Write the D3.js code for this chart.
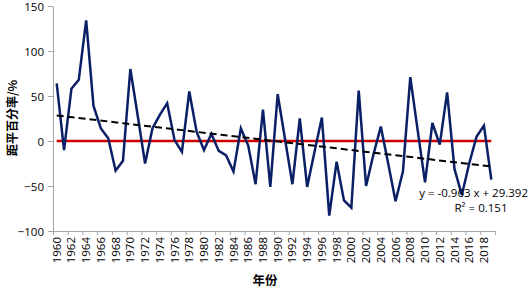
<!DOCTYPE html>
<html>
<head>
<meta charset="utf-8">
<script src="https://cdn.jsdelivr.net/npm/d3@7"></script>
<style>
  body { margin: 0; background: #fff; }
  .axis path, .axis line { stroke: #a6a6a6; }
  .axis text { font-family: "Open Sans", "Noto Sans", sans-serif; font-size: 11.5px; fill: #000; }
</style>
</head>
<body>
<div id="chart"></div>
<script>
const years = d3.range(1960, 2020)
const anomaly = [
  64, -10, 58, 68, 134, 39, 14, 3, -33, -22,
  80, 28, -25, 14, 29, 42, 1, -12, 55, 10,
  -10, 8, -11, -16, -34, 14, -5, -48, 35, -51,
  52, 2, -48, 25, -51, -12, 26, -83, -23, -66,
  -74, 56, -50, -15, 16, -25, -67, -34, 71, 12,
  -46, 20, -4, 54, -31, -60, -25, 5, 17, -43
]
const yTicks = [-100, -50, 0, 50, 100, 150]
const trendSlope = -0.963
const trendIntercept = 29.392
const trendText = "y = -0.963 x + 29.392"
const r2Text = "R² = 0.151"

const width = 529, height = 289
const margin = {top: 6, right: 34, bottom: 58, left: 53}

const svg = d3.select("#chart").append("svg")
    .attr("width", width)
    .attr("height", height)

const x = d3.scaleBand()
    .domain(years)
    .range([margin.left, width - margin.right])
    .padding(0)

const xEdge = d3.scaleLinear()
    .domain([years[0] - 0.5, years[years.length - 1] + 0.5])
    .range([margin.left, width - margin.right])

const y = d3.scaleLinear()
    .domain([-100, 150])
    .range([height - margin.bottom, margin.top])

const cx = d => x(d) + x.bandwidth() / 2

// y axis
svg.append("g")
    .attr("class", "axis y-axis")
    .attr("transform", `translate(${margin.left},0)`)
    .call(d3.axisLeft(y).tickValues(yTicks).tickSize(5).tickSizeOuter(0).tickPadding(4))
    .selectAll("text")
    .attr("dy", "0.4em")

// x axis ticks at category boundaries
const edgeTicks = d3.range(years[0] - 0.5, years[years.length - 1] + 1, 2)
svg.append("g")
    .attr("class", "axis x-axis")
    .attr("transform", `translate(0,${y(-100)})`)
    .call(d3.axisBottom(xEdge).tickValues(edgeTicks).tickFormat("").tickSize(4).tickSizeOuter(0))

// x labels (every other year), rotated
svg.append("g")
    .attr("class", "axis x-labels")
    .attr("transform", `translate(0,${y(-100)})`)
    .call(d3.axisBottom(x).tickValues(years.filter(d => d % 2 === 0)).tickSize(0))
    .call(g => g.select(".domain").remove())
    .selectAll("text")
    .attr("transform", "rotate(-90)")
    .attr("text-anchor", "end")
    .attr("x", -6)
    .attr("y", 0)
    .attr("dy", "0.35em")

// zero line
svg.append("line")
    .attr("x1", cx(years[0]))
    .attr("x2", cx(years[years.length - 1]))
    .attr("y1", y(0))
    .attr("y2", y(0))
    .attr("stroke", "#d00000")
    .attr("stroke-width", 2.5)

// data line
const line = d3.line()
    .x((d, i) => cx(years[i]))
    .y(d => y(d))

svg.append("path")
    .datum(anomaly)
    .attr("fill", "none")
    .attr("stroke", "#0b1f66")
    .attr("stroke-width", 2.5)
    .attr("d", line)

// linear trend (x = 1..n)
const n = years.length
svg.append("line")
    .attr("x1", cx(years[0]))
    .attr("x2", cx(years[n - 1]))
    .attr("y1", y(trendSlope * 1 + trendIntercept))
    .attr("y2", y(trendSlope * n + trendIntercept))
    .attr("stroke", "#000")
    .attr("stroke-width", 2)
    .attr("stroke-dasharray", "7,4")

// trend label
const labelFont = '"Open Sans", "Noto Sans", sans-serif'
svg.append("text")
    .attr("x", 528)
    .attr("y", 197)
    .attr("text-anchor", "end")
    .style("font-family", labelFont)
    .style("font-size", "11.5px")
    .text(trendText)

svg.append("text")
    .attr("x", 481)
    .attr("y", 212)
    .attr("text-anchor", "middle")
    .style("font-family", labelFont)
    .style("font-size", "11.5px")
    .text(r2Text)

// axis titles
svg.append("text")
    .attr("x", 265)
    .attr("y", 285)
    .attr("text-anchor", "middle")
    .style("font-family", '"Noto Sans CJK SC", sans-serif')
    .style("font-weight", "bold")
    .style("font-size", "12.5px")
    .text("年份")

svg.append("text")
    .attr("transform", "translate(17,118) rotate(-90)")
    .attr("text-anchor", "middle")
    .style("font-family", '"Noto Sans CJK SC", sans-serif')
    .style("font-weight", "bold")
    .style("font-size", "12px")
    .text("距平百分率/%")
</script>
</body>
</html>
